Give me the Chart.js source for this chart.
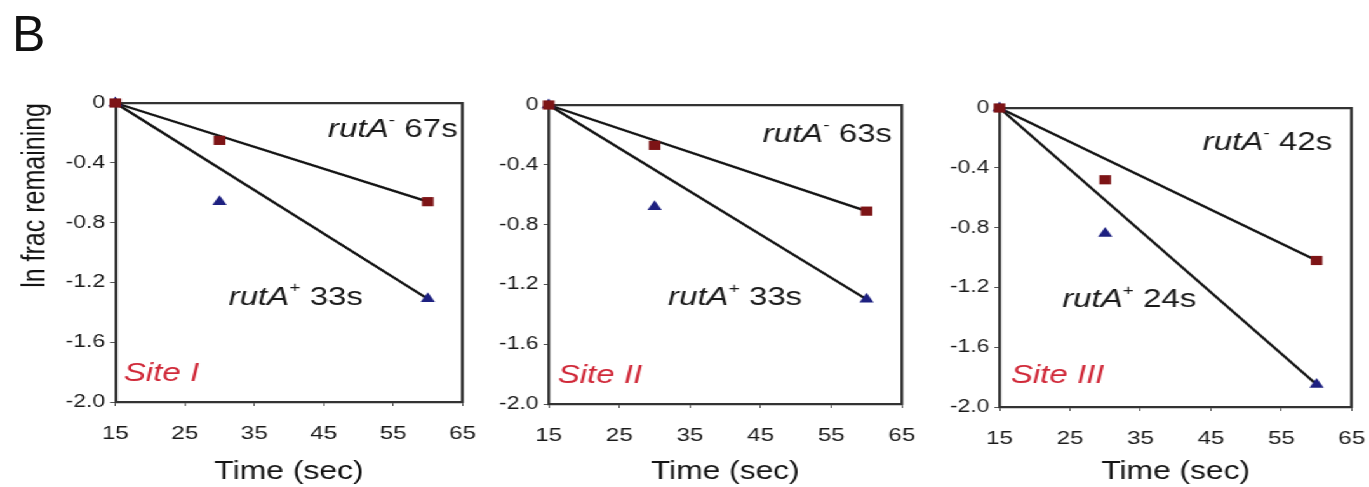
<!DOCTYPE html>
<html>
<head>
<meta charset="utf-8">
<script src="https://cdn.jsdelivr.net/npm/chart.js@4"></script>
<style>
html, body { margin: 0; padding: 0; background: #fff; }
body { width: 1369px; height: 487px; position: relative; overflow: hidden; font-family: "Liberation Sans", Arial, sans-serif; }
#letter { position: absolute; left: 12px; top: 4px; font-size: 50px; color: #111; line-height: 60px; }
/* the reference figure is stretched sideways, so the charts are drawn narrow and widened */
#wrap { position: absolute; left: 0; top: 0; width: 1078px; height: 487px; transform: scaleX(1.27); transform-origin: 0 0; }
.panel { position: absolute; top: 0; height: 487px; }
</style>
</head>
<body>
<div id="letter">B</div>
<div id="wrap">
  <div class="panel" id="p0"><canvas id="c0"></canvas></div>
  <div class="panel" id="p1"><canvas id="c1"></canvas></div>
  <div class="panel" id="p2"><canvas id="c2"></canvas></div>
</div>
<script>
// --- Data ---
const times = [15, 30, 60];
const fitTimes = [15, 60];
const siteNames = ['Site I', 'Site II', 'Site III'];
const rutAMinus = [[0, -0.25, -0.66], [0, -0.27, -0.71], [0, -0.48, -1.02]];
const rutAPlus = [[0, -0.66, -1.31], [0, -0.68, -1.30], [0, -0.84, -1.85]];
const fitMinus = [[0, -0.66], [0, -0.71], [0, -1.02]];
const fitPlus = [[0, -1.31], [0, -1.30], [0, -1.85]];
const halfLifeMinus = ['67s', '63s', '42s'];
const halfLifePlus = ['33s', '33s', '24s'];
const xTicks = [15, 25, 35, 45, 55, 65];
const yTicks = [-2.0, -1.6, -1.2, -0.8, -0.4, 0];
const yTickLabels = ['-2.0', '-1.6', '-1.2', '-0.8', '-0.4', '0'];

// --- Layout (unscaled px) ---
const panels = [
    { left: 0,     axisW: 90.6, plotW: 273.2, top: 103, bottomH: 85,
      minusPos: [64.3, -0.18], plusPos: [31.3, -1.30], sitePos: [16.2, -1.81] },
    { left: 371.5, axisW: 60,   plotW: 278.7, top: 105, bottomH: 83,
      minusPos: [63.6, -0.20], plusPos: [31.9, -1.29], sitePos: [16.3, -1.81] },
    { left: 726.6, axisW: 60,   plotW: 278.0, top: 108, bottomH: 80,
      minusPos: [62.2, -0.23], plusPos: [23.9, -1.28], sitePos: [16.6, -1.79] }
];
const RIGHT_PAD = 14;
const RIGHT_EXTRA = 12; // chart.js keeps a bit more room on the right than asked
const FONT = '"Liberation Sans", Arial, sans-serif';

function pts(xs, ys) {
    return xs.map((x, k) => ({ x: x, y: ys[k] }));
}

// draws "rutA" + superscript sign + half life
function drawRutA(ctx, x, y, sign, half, align) {
    const parts = [
        { text: 'rutA', font: 'italic 26px ' + FONT, dy: 0 },
        { text: sign, font: '15px ' + FONT, dy: -9 },
        { text: ' ' + half, font: '26px ' + FONT, dy: 0 }
    ];
    let total = 0;
    parts.forEach(p => { ctx.font = p.font; p.w = ctx.measureText(p.text).width; total += p.w; });
    let cx = align === 'right' ? x - total : x;
    parts.forEach(p => {
        ctx.font = p.font;
        ctx.fillText(p.text, cx, y + p.dy);
        cx += p.w;
    });
}

const annotations = {
    id: 'annotations',
    afterDatasetsDraw(chart, args, opts) {
        const { ctx, scales: { x, y } } = chart;
        const p = panels[opts.index];
        ctx.save();
        ctx.textBaseline = 'middle';
        ctx.textAlign = 'left';
        ctx.fillStyle = '#1a1a1a';
        drawRutA(ctx, x.getPixelForValue(p.minusPos[0]), y.getPixelForValue(p.minusPos[1]),
            '-', halfLifeMinus[opts.index], 'right');
        drawRutA(ctx, x.getPixelForValue(p.plusPos[0]), y.getPixelForValue(p.plusPos[1]),
            '+', halfLifePlus[opts.index], 'left');
        ctx.fillStyle = '#d02838';
        ctx.font = 'italic 26px ' + FONT;
        ctx.fillText(siteNames[opts.index], x.getPixelForValue(p.sitePos[0]), y.getPixelForValue(p.sitePos[1]));
        ctx.restore();
    }
};

panels.forEach((p, i) => {
    const box = document.getElementById('p' + i);
    box.style.left = p.left + 'px';
    box.style.width = (p.axisW + p.plotW + RIGHT_PAD + RIGHT_EXTRA) + 'px';

    new Chart(document.getElementById('c' + i), {
        type: 'scatter',
        data: {
            datasets: [
                {
                    data: pts(times, rutAMinus[i]),
                    pointStyle: 'rect', pointRadius: 6.5,
                    backgroundColor: '#7d1416', borderColor: '#7d1416', borderWidth: 0,
                    clip: false
                },
                {
                    data: pts(times, rutAPlus[i]),
                    pointStyle: 'triangle', pointRadius: 6.5,
                    backgroundColor: '#1d2080', borderColor: '#1d2080', borderWidth: 0,
                    clip: false
                },
                {
                    data: pts(fitTimes, fitMinus[i]),
                    showLine: true, pointRadius: 0, borderColor: '#141414', borderWidth: 2.3,
                    clip: false
                },
                {
                    data: pts(fitTimes, fitPlus[i]),
                    showLine: true, pointRadius: 0, borderColor: '#141414', borderWidth: 2.3,
                    clip: false
                }
            ]
        },
        options: {
            responsive: true,
            maintainAspectRatio: false,
            animation: false,
            layout: { padding: { top: p.top, left: 0, right: RIGHT_PAD, bottom: 0 } },
            plugins: {
                legend: { display: false },
                tooltip: { enabled: false },
                annotations: { index: i }
            },
            scales: {
                x: {
                    type: 'linear', position: 'bottom', min: 15, max: 65,
                    afterBuildTicks: s => { s.ticks = xTicks.map(v => ({ value: v })); },
                    afterFit: s => { s.height = p.bottomH; },
                    grid: { display: true, drawOnChartArea: false, tickLength: 4, color: '#555' },
                    border: { display: true, color: '#333', width: 2.2 },
                    ticks: { color: '#1a1a1a', padding: 16, font: { family: FONT, size: 19 }, maxRotation: 0 },
                    title: {
                        display: true, text: 'Time (sec)', color: '#141414',
                        font: { family: FONT, size: 25 }, padding: { top: 5, bottom: 0 }
                    }
                },
                y: {
                    type: 'linear', position: 'left', min: -2, max: 0,
                    afterBuildTicks: s => { s.ticks = yTicks.map(v => ({ value: v })); },
                    afterFit: s => { s.width = p.axisW; },
                    grid: { display: true, drawOnChartArea: false, tickLength: 4, color: '#555' },
                    border: { display: true, color: '#333', width: 2.2 },
                    ticks: {
                        color: '#1a1a1a', padding: 4, font: { family: FONT, size: 18 },
                        callback: (v, idx) => yTickLabels[idx]
                    },
                    title: {
                        display: i === 0, text: 'ln frac remaining', color: '#141414', align: 'end',
                        font: { family: FONT, size: 25 }, padding: { top: 13, bottom: 0 }
                    }
                },
                x2: {
                    type: 'linear', position: 'top', min: 15, max: 65,
                    afterFit: s => { s.height = 0; },
                    grid: { display: false }, ticks: { display: false },
                    border: { display: true, color: '#333', width: 2.2 }
                },
                y2: {
                    type: 'linear', position: 'right', min: -2, max: 0,
                    afterFit: s => { s.width = 0; },
                    grid: { display: false }, ticks: { display: false },
                    border: { display: true, color: '#333', width: 2.2 }
                }
            }
        },
        plugins: [annotations]
    });
});
</script>
</body>
</html>
